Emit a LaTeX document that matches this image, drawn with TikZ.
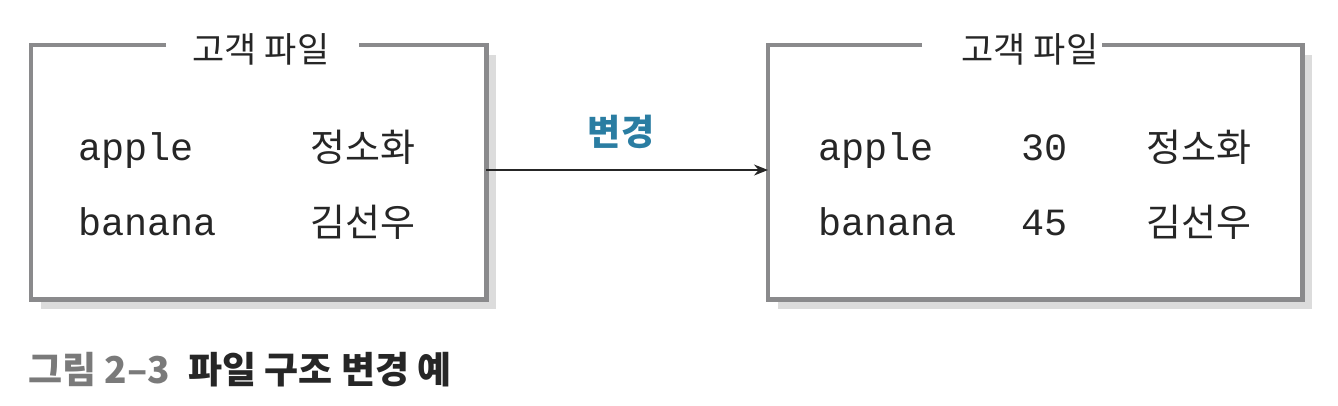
\documentclass[tikz,border=0pt]{standalone}
\usepackage{fontspec}
\newfontfamily\kr{Noto Sans CJK KR}
\newfontfamily\mono{Liberation Mono}
\usetikzlibrary{arrows.meta}
\definecolor{boxgray}{HTML}{8A8A8C}
\definecolor{shadowgray}{HTML}{DCDCDC}
\definecolor{teal2}{HTML}{2A7DA2}
\definecolor{capgray}{HTML}{7A7A7A}
\tikzset{
  filebox/.style={draw=none, fill=white, rectangle, inner sep=0pt, anchor=north west},
  boxborder/.style={draw=boxgray, line width=4.5pt},
  shadowfill/.style={fill=shadowgray, draw=none},
  ttltxt/.style={font=\kr\fontsize{35}{40}\selectfont, inner sep=0pt, text=black!85},
  codetxt/.style={font=\mono\fontsize{38.5}{42}\selectfont, inner sep=0pt, anchor=base west, text=black!85},
  krtxt/.style={font=\kr\fontsize{38}{42}\selectfont, inner sep=0pt, anchor=base west, text=black!85},
  conn/.style={draw=black!85, line width=1.6pt, -{Stealth[length=14pt,width=11pt]}},
}
\begin{document}
\begin{tikzpicture}[x=1pt,y=-1pt]
\useasboundingbox (0,0) rectangle (1338,405);
% shadows
\fill[shadowfill] (41,55) rectangle (496,309);
\fill[shadowfill] (778,55) rectangle (1312,309);
% boxes
\node[filebox, minimum width=455pt, minimum height=254pt] (b1) at (31,45) {};
\node[filebox, minimum width=534pt, minimum height=254pt] (b2) at (768,45) {};
% titles
\node[ttltxt] (t1) at (261,49) {고객 파일};
\node[ttltxt] (t2) at (1030,49) {고객 파일};
% borders with gaps
\draw[boxborder] (166,45) -| (b1.south west) -| (b1.north east) -- (359,45);
\draw[boxborder] (922,45) -| (b2.south west) -| (b2.north east) -- (1102,45);
% contents box 1
\node[codetxt] (a1) at (78,160) {apple};
\node[codetxt] (n1) at (78,235) {banana};
\node[krtxt] (k1) at (310,161) {정소화};
\node[krtxt] (k2) at (310,236) {김선우};
% contents box 2
\node[codetxt] (a2) at (818,160) {apple};
\node[codetxt] (n2) at (818,235) {banana};
\node[codetxt] (v1) at (1021,160) {30};
\node[codetxt] (v2) at (1021,235) {45};
\node[krtxt] (k3) at (1146,161) {정소화};
\node[krtxt] (k4) at (1146,236) {김선우};
% connector
\draw[conn] (b1.east |- 0,170) -- (b2.west |- 0,170);
\node[font=\kr\bfseries\fontsize{36}{40}\selectfont, text=teal2, inner sep=0pt] (chg) at (621,132) {변경};
% caption
\node[font=\kr\bfseries\fontsize{37}{42}\selectfont, inner sep=0pt, anchor=base west] (cap) at (28,383)
  {\textcolor{capgray}{그림 2–3}\hspace{18pt}\textcolor{black!85}{파일 구조 변경 예}};
\end{tikzpicture}
\end{document}
